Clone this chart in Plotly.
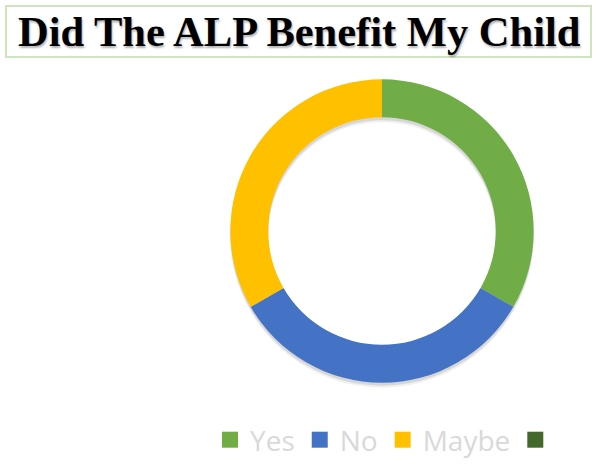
import plotly.graph_objects as go

title_text = "Did The ALP Benefit My Child"
categories = ["Yes", "No", "Maybe", " "]
values = [1, 1, 1, 0]
colors = ["#70ad47", "#4472c4", "#ffc000", "#43682b"]

W, H = 597, 465


def px(x):
    return x / W


def py(y):
    return 1 - y / H


fig = go.Figure()

# soft drop shadow of the ring
for off, alpha in [(5, 0.06), (3, 0.10)]:
    fig.add_trace(go.Pie(
        labels=categories, values=values, hole=0.75, sort=False,
        direction="clockwise", rotation=0, textinfo="none", hoverinfo="skip",
        marker=dict(colors=["rgba(0,0,0,%s)" % alpha] * len(values), line=dict(width=0)),
        domain=dict(x=[px(230), px(534)], y=[py(383.5 + off), py(79.5 + off)]),
        showlegend=False,
    ))

fig.add_trace(go.Pie(
    labels=categories,
    values=values,
    hole=0.75,
    sort=False,
    direction="clockwise",
    rotation=0,
    textinfo="none",
    hoverinfo="skip",
    marker=dict(colors=colors, line=dict(width=0)),
    domain=dict(x=[px(230), px(534)], y=[py(383.5), py(79.5)]),
    showlegend=False,
))

# legend entries built from the same categories / colours
for name, col in zip(categories, colors):
    fig.add_trace(go.Scatter(
        x=[None], y=[None], mode="markers", name=name,
        marker=dict(symbol="square", size=18, color=col),
        hoverinfo="skip", showlegend=True,
    ))

fig.add_shape(type="rect", xref="paper", yref="paper",
              x0=px(6), x1=px(591), y0=py(57), y1=py(6),
              line=dict(color="#cfe5c0", width=2), fillcolor="rgba(0,0,0,0)")

fig.add_annotation(text="<b>" + title_text + "</b>", xref="paper", yref="paper",
                   x=px(299), y=py(32), xanchor="center", yanchor="middle",
                   showarrow=False,
                   font=dict(family="Liberation Serif", size=42.5, color="#000000",
                             shadow="1px 2px 2px rgba(0,0,0,0.3)"))

fig.update_layout(
    width=W, height=H,
    margin=dict(l=0, r=0, t=0, b=0),
    paper_bgcolor="white",
    plot_bgcolor="white",
    xaxis=dict(visible=False),
    yaxis=dict(visible=False),
    legend=dict(orientation="h", x=px(210), xanchor="left", y=py(440.5), yanchor="middle",
                font=dict(family="Open Sans", size=28, color="#d9d9d9"),
                bgcolor="rgba(0,0,0,0)", itemsizing="trace"),
)

fig.write_html("out.html", config={"displayModeBar": False},
               post_script="document.body.style.margin='0';document.body.style.overflow='hidden';")
